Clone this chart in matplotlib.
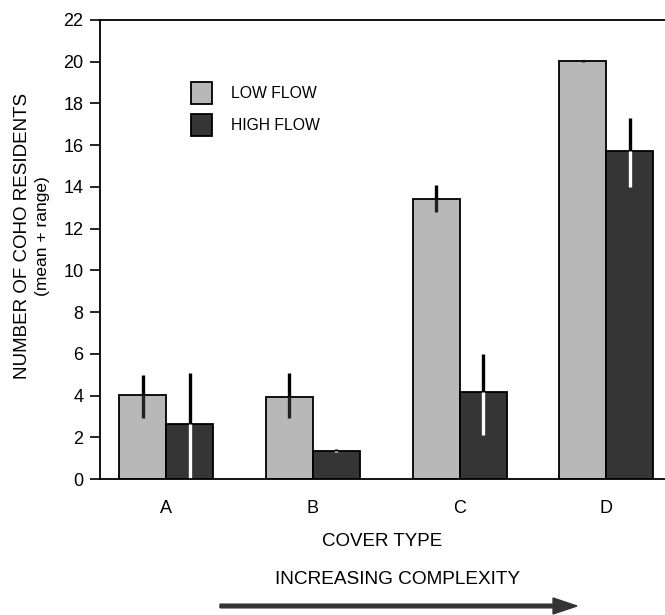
import numpy as np
import matplotlib
matplotlib.use("Agg")
import matplotlib.pyplot as plt
from matplotlib.patches import Patch, FancyArrow

plt.rcParams['font.family'] = ['Liberation Sans', 'DejaVu Sans']

cover_types = ['A', 'B', 'C', 'D']
low_mean = [4.05, 3.95, 13.4, 20.05]
low_min = [2.9, 2.9, 12.8, 20.0]
low_max = [5.0, 5.1, 14.1, 20.1]
high_mean = [2.65, 1.35, 4.15, 15.7]
high_min = [0.0, 1.3, 2.1, 14.0]
high_max = [5.1, 1.45, 6.0, 17.3]

low_color = '#b8b8b8'
high_color = '#353535'

fig = plt.figure(figsize=(6.65, 6.15), dpi=100)
ax = fig.add_axes([100 / 665, 1 - 479 / 615, 1 - 100 / 665, 459 / 615])

x = np.arange(len(cover_types))
w = 0.32

ax.bar(x - w / 2, low_mean, w, color=low_color, edgecolor='black', linewidth=1.3)
ax.bar(x + w / 2, high_mean, w, color=high_color, edgecolor='black', linewidth=1.3)

# range bars: black above the bar top, dark/white inside the bar
for i in range(len(x)):
    xl = x[i] - w / 2
    ax.plot([xl, xl], [low_mean[i], low_max[i]], color='black', lw=2.4, solid_capstyle='butt')
    ax.plot([xl, xl], [low_min[i], low_mean[i]], color='#222222', lw=2.4, solid_capstyle='butt')
    xh = x[i] + w / 2
    ax.plot([xh, xh], [high_mean[i], high_max[i]], color='black', lw=2.4, solid_capstyle='butt')
    ax.plot([xh, xh], [high_min[i], high_mean[i]], color='white', lw=2.4, solid_capstyle='butt')

ax.set_xlim(-0.45, 3.40)
ax.set_ylim(0, 22)
ax.set_yticks(np.arange(0, 23, 2))
ax.set_xticks(x)
ax.set_xticklabels(cover_types)
ax.tick_params(axis='x', length=0, pad=15, labelsize=13)
ax.tick_params(axis='y', direction='out', length=7, width=1.2, labelsize=13, pad=5)
ax.spines['right'].set_visible(False)
for s in ['left', 'top', 'bottom']:
    ax.spines[s].set_linewidth(1.3)

fig.text(23 / 665, 1 - 236 / 615, 'NUMBER OF COHO RESIDENTS', rotation=90,
         ha='center', va='center', fontsize=13.5)
fig.text(43 / 665, 1 - 236 / 615, '(mean + range)', rotation=90,
         ha='center', va='center', fontsize=12.5)
ax.set_xlabel('COVER TYPE', fontsize=13.5, labelpad=12)

handles = [Patch(facecolor=low_color, edgecolor='black', linewidth=1.3),
           Patch(facecolor=high_color, edgecolor='black', linewidth=1.3)]
ax.legend(handles, ['LOW FLOW', 'HIGH FLOW'], loc='upper left', bbox_to_anchor=(0.161, 0.865),
          frameon=False, fontsize=11.3, handlelength=1.35, handleheight=1.75,
          handletextpad=1.2, labelspacing=0.65, borderaxespad=0, borderpad=0)

fig.text(398 / 665, 1 - 580 / 615, 'INCREASING COMPLEXITY', ha='center', va='center', fontsize=13.7)
fig.patches.append(FancyArrow(220 / 665, 1 - 606 / 615, 357 / 665, 0,
                              width=0.006, head_width=0.026, head_length=0.036,
                              length_includes_head=True, color='#333333',
                              transform=fig.transFigure, figure=fig))

fig.savefig('out.png', dpi=100)
